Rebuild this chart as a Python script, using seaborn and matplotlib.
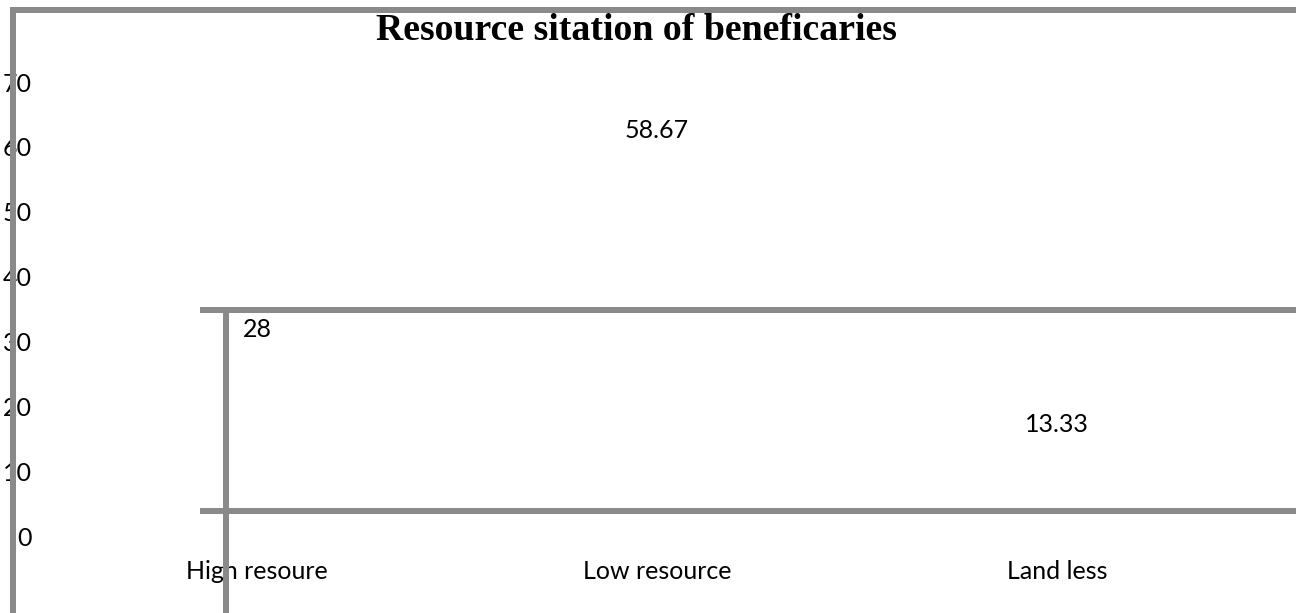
import matplotlib
matplotlib.use("Agg")
import matplotlib.pyplot as plt
from matplotlib.lines import Line2D
import seaborn as sns
import pandas as pd

# Share of beneficiaries by resource situation (%)
categories = ["High resoure", "Low resource", "Land less"]
shares = [28, 58.67, 13.33]
y_ticks = [0, 10, 20, 30, 40, 50, 60, 70]
title = "Resource sitation of beneficaries"

sns.set_theme(style="white")
plt.rcParams["font.family"] = ["Lato", "DejaVu Sans"]

W, H = 1303, 613
fig = plt.figure(figsize=(W / 100, H / 100), dpi=100)
fig.patch.set_facecolor("white")

# axes placed in pixel terms: x from 57 to 1257, y from 82 (top) to 536 (bottom)
ax = fig.add_axes([57 / W, 1 - 536 / H, 1200 / W, (536 - 82) / H])
ax.set_facecolor("white")

df = pd.DataFrame({"category": categories, "share": shares})
sns.barplot(data=df, x="category", y="share", color="white",
            saturation=1, linewidth=0, ax=ax)

ax.set_ylim(0, 70)
ax.set_yticks(y_ticks)
ax.set_yticklabels([str(t) for t in y_ticks])
ax.set_xlabel("")
ax.set_ylabel("")
for s in ax.spines.values():
    s.set_visible(False)
ax.tick_params(axis="y", length=0, pad=18, labelsize=18, labelcolor="black")
ax.tick_params(axis="x", length=0, pad=17, labelsize=18, labelcolor="black")

for i, v in enumerate(shares):
    ax.annotate(f"{v:g}", (i, v), xytext=(0, 12.6), textcoords="offset points",
                ha="center", va="baseline", fontsize=18, color="black")

fig.text(636 / W, 1 - 40 / H, title, ha="center", va="baseline",
         fontsize=27.2, fontweight="bold", color="black",
         family=["Liberation Serif", "DejaVu Serif"])

# grey frame and divider lines, drawn over the text
grey = "#8a8a8a"
lw = 6 * 0.72


def hline(y, x0, x1):
    fig.add_artist(Line2D([x0 / W, x1 / W], [1 - y / H, 1 - y / H],
                          transform=fig.transFigure, color=grey, lw=lw,
                          solid_capstyle="butt", zorder=10))


def vline(x, y0, y1):
    fig.add_artist(Line2D([x / W, x / W], [1 - y0 / H, 1 - y1 / H],
                          transform=fig.transFigure, color=grey, lw=lw,
                          solid_capstyle="butt", zorder=10))


hline(10, 10, 1296)
vline(12.5, 7, 613)
hline(310, 200, 1296)
hline(511, 200, 1296)
vline(226, 307, 613)

fig.savefig("out.png", dpi=100, facecolor="white")
